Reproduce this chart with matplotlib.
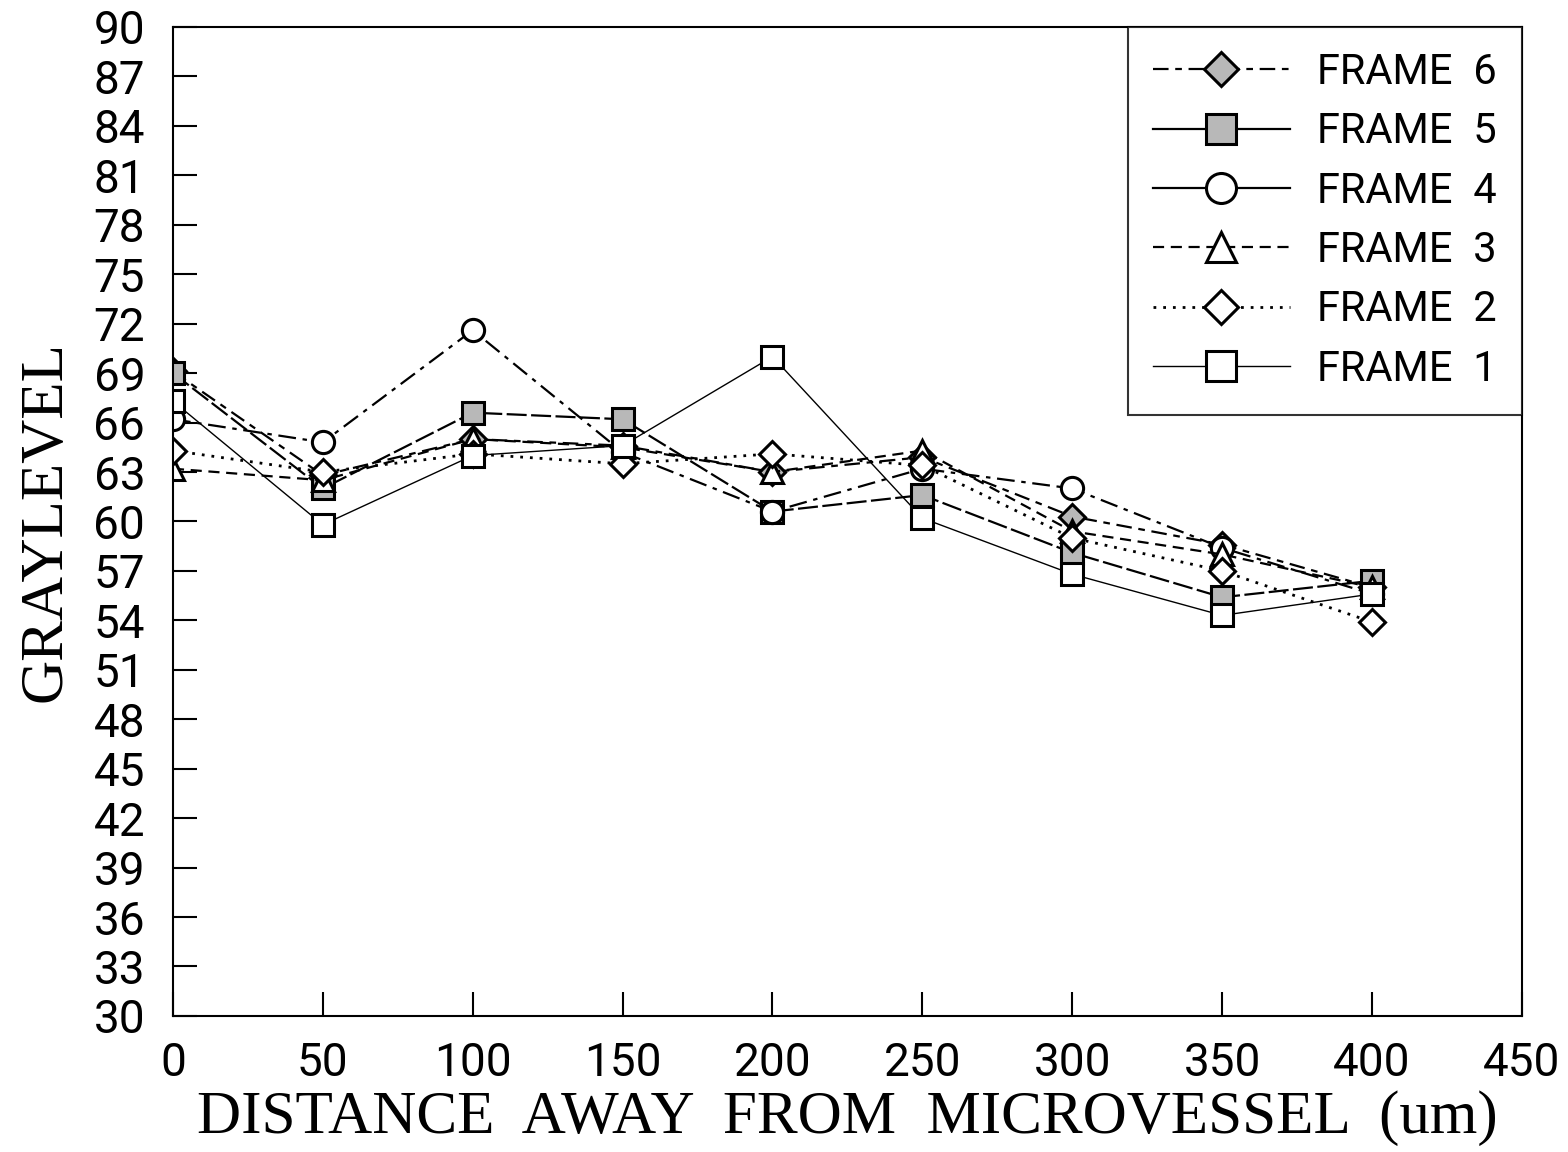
import matplotlib as mpl
mpl.use('Agg')
import matplotlib.pyplot as plt

# distance from microvessel (um)
distance = [0, 50, 100, 150, 200, 250, 300, 350, 400]

frame1 = [67.3, 59.8, 64.0, 64.6, 70.0, 60.2, 56.8, 54.3, 55.6]
frame2 = [64.3, 63.0, 64.1, 63.5, 64.1, 63.4, 59.0, 57.0, 53.9]
frame3 = [63.2, 62.5, 65.0, 64.5, 63.0, 64.3, 59.4, 58.0, 56.0]
frame4 = [66.2, 64.8, 71.6, 64.2, 60.6, 63.2, 62.0, 58.4, 55.6]
frame5 = [69.0, 62.0, 66.6, 66.2, 60.6, 61.6, 58.1, 55.4, 56.4]
frame6 = [69.1, 62.8, 65.0, 64.6, 63.0, 63.9, 60.3, 58.6, 56.0]

labels = ['FRAME  6', 'FRAME  5', 'FRAME  4', 'FRAME  3', 'FRAME  2', 'FRAME  1']
yticks = list(range(30, 91, 3))
xticks = list(range(0, 451, 50))

fill = '#b8b8b8'
sans = ['Roboto', 'DejaVu Sans']

fig = plt.figure(figsize=(15.68, 11.52), dpi=100)
ax = fig.add_axes([0.1103, 0.1181, 0.8603, 0.8585])

series = [
    (frame6, 'D', fill, (0, (7, 3, 3, 3)), 1.6),
    (frame5, 's', fill, (0, (9, 2)), 1.6),
    (frame4, 'o', 'white', (0, (8, 3, 2, 3)), 1.6),
    (frame3, '^', 'white', (0, (5, 3)), 1.6),
    (frame2, 'D', 'white', (0, (1, 2.5)), 2.0),
    (frame1, 's', 'white', '-', 1.0),
]

for (vals, mk, fc, ls, lw), lab in zip(series, labels):
    ms = 13 if mk == 'D' else 16
    ax.plot(distance, vals, linestyle=ls, color='black', linewidth=lw,
            marker=mk, markersize=ms, markerfacecolor=fc,
            markeredgecolor='black', markeredgewidth=2.2, label=lab)

ax.set_xlim(0, 450)
ax.set_ylim(30, 90)
ax.set_xticks(xticks)
ax.set_yticks(yticks)
ax.tick_params(direction='in', length=17, width=1.5)
ax.tick_params(axis='y', pad=20)
ax.tick_params(axis='x', pad=18)
for t in ax.get_xticklabels() + ax.get_yticklabels():
    t.set_family(sans)
    t.set_fontsize(33)
for s in ax.spines.values():
    s.set_linewidth(1.5)

ax.set_xlabel('DISTANCE  AWAY  FROM  MICROVESSEL  (um)',
              family='Liberation Serif', fontsize=44, labelpad=4)
ax.set_ylabel('GRAYLEVEL', family='Liberation Serif', fontsize=44, labelpad=14)

leg = ax.legend(loc='upper right', frameon=True, fancybox=False,
                edgecolor='black', borderaxespad=0, handlelength=3.3,
                labelspacing=0.44, borderpad=0.6, handletextpad=0.65,
                markerscale=1.35, prop={'family': sans, 'size': 30})
leg.get_frame().set_linewidth(1.5)
# the key draws frames 5, 4 and 1 with plain solid lines
for i in (1, 2, 5):
    leg.get_lines()[i].set_linestyle('-')

plt.savefig('out.png', dpi=100)
plt.close('all')
